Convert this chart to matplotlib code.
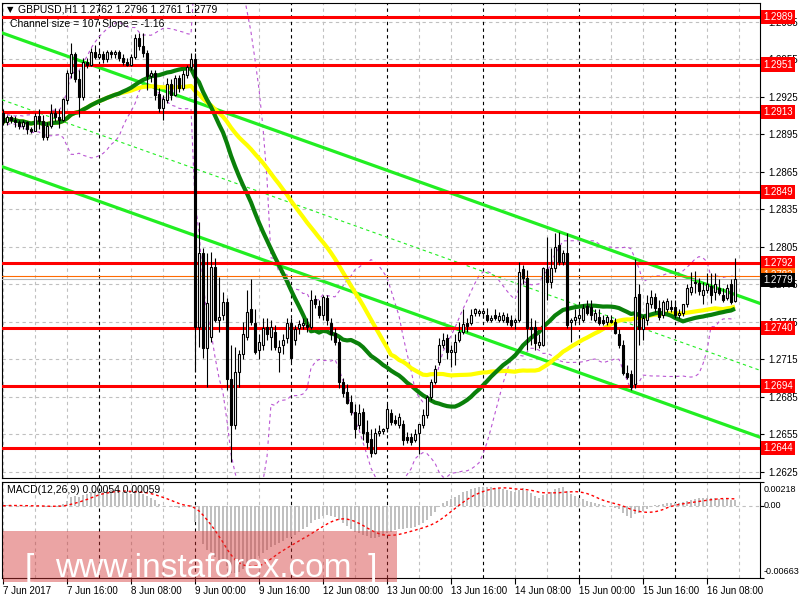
import numpy as np
import pandas as pd
import matplotlib
matplotlib.use("Agg")
import matplotlib.pyplot as plt
from matplotlib.patches import Rectangle

plt.rcParams['font.family'] = ['Liberation Sans', 'DejaVu Sans']

# --- data (GBPUSD H1, 7 Jun 00:00 .. 16 Jun 15:00) ---
opens = [
    1.2912, 1.2905, 1.2909, 1.2907, 1.2905, 1.2902, 1.2905, 1.2899, 1.2898, 1.2910, 1.2906, 1.2893,
    1.2902, 1.2912, 1.2909, 1.2907, 1.2923, 1.2944, 1.2959, 1.2939, 1.2925, 1.2953, 1.2951, 1.2961,
    1.2957, 1.2959, 1.2955, 1.2961, 1.2959, 1.2961, 1.2956, 1.2953, 1.2951, 1.2957, 1.2972, 1.2966,
    1.2960, 1.2942, 1.2944, 1.2927, 1.2916, 1.2923, 1.2935, 1.2927, 1.2940, 1.2932, 1.2943, 1.2949,
    1.2955, 1.2741, 1.2800, 1.2724, 1.2733, 1.2789, 1.2747, 1.2751, 1.2761, 1.2699, 1.2663, 1.2705,
    1.2719, 1.2733, 1.2755, 1.2744, 1.2723, 1.2727, 1.2741, 1.2733, 1.2737, 1.2721, 1.2727, 1.2732,
    1.2744, 1.2731, 1.2740, 1.2743, 1.2743, 1.2741, 1.2763, 1.2758, 1.2751, 1.2764, 1.2744, 1.2736,
    1.2729, 1.2697, 1.2689, 1.2681, 1.2673, 1.2663, 1.2673, 1.2657, 1.2651, 1.2640, 1.2656, 1.2658,
    1.2660, 1.2672, 1.2667, 1.2663, 1.2663, 1.2653, 1.2653, 1.2651, 1.2656, 1.2663, 1.2671, 1.2685,
    1.2697, 1.2713, 1.2727, 1.2732, 1.2721, 1.2721, 1.2731, 1.2737, 1.2744, 1.2744, 1.2752, 1.2752,
    1.2752, 1.2751, 1.2747, 1.2751, 1.2747, 1.2747, 1.2749, 1.2747, 1.2745, 1.2747, 1.2787, 1.2780,
    1.2741, 1.2741, 1.2727, 1.2727, 1.2787, 1.2777, 1.2788, 1.2807, 1.2793, 1.2800, 1.2745, 1.2747,
    1.2748, 1.2747, 1.2758, 1.2757, 1.2747, 1.2749, 1.2747, 1.2745, 1.2747, 1.2745, 1.2735, 1.2727,
    1.2704, 1.2703, 1.2695, 1.2767, 1.2739, 1.2747, 1.2759, 1.2765, 1.2756, 1.2751, 1.2755, 1.2757,
    1.2757, 1.2751, 1.2752, 1.2759, 1.2769, 1.2777, 1.2776, 1.2767, 1.2771, 1.2774, 1.2769, 1.2772,
    1.2767, 1.2764, 1.2775, 1.2762,
]
highs = [
    1.2915, 1.2911, 1.2911, 1.2910, 1.2907, 1.2907, 1.2906, 1.2901, 1.2912, 1.2915, 1.2911, 1.2905,
    1.2919, 1.2916, 1.2915, 1.2924, 1.2947, 1.2968, 1.2961, 1.2947, 1.2956, 1.2956, 1.2964, 1.2967,
    1.2963, 1.2962, 1.2963, 1.2963, 1.2963, 1.2963, 1.2959, 1.2956, 1.2959, 1.2975, 1.2976, 1.2976,
    1.2963, 1.2947, 1.2947, 1.2932, 1.2927, 1.2940, 1.2939, 1.2943, 1.2943, 1.2947, 1.2951, 1.2960,
    1.2960, 1.2825, 1.2804, 1.2800, 1.2801, 1.2796, 1.2781, 1.2769, 1.2764, 1.2727, 1.2725, 1.2723,
    1.2745, 1.2771, 1.2779, 1.2755, 1.2735, 1.2748, 1.2748, 1.2747, 1.2743, 1.2731, 1.2735, 1.2748,
    1.2748, 1.2743, 1.2747, 1.2748, 1.2748, 1.2771, 1.2767, 1.2763, 1.2767, 1.2767, 1.2748, 1.2740,
    1.2732, 1.2700, 1.2695, 1.2687, 1.2679, 1.2679, 1.2676, 1.2667, 1.2659, 1.2660, 1.2663, 1.2660,
    1.2679, 1.2675, 1.2671, 1.2672, 1.2667, 1.2657, 1.2656, 1.2659, 1.2663, 1.2675, 1.2687, 1.2699,
    1.2711, 1.2732, 1.2736, 1.2735, 1.2727, 1.2735, 1.2745, 1.2755, 1.2748, 1.2755, 1.2756, 1.2755,
    1.2756, 1.2756, 1.2751, 1.2755, 1.2753, 1.2753, 1.2752, 1.2751, 1.2748, 1.2793, 1.2791, 1.2787,
    1.2748, 1.2747, 1.2735, 1.2789, 1.2813, 1.2804, 1.2816, 1.2817, 1.2803, 1.2816, 1.2748, 1.2755,
    1.2755, 1.2759, 1.2763, 1.2763, 1.2755, 1.2755, 1.2751, 1.2751, 1.2751, 1.2748, 1.2739, 1.2731,
    1.2711, 1.2707, 1.2795, 1.2775, 1.2751, 1.2767, 1.2771, 1.2768, 1.2763, 1.2763, 1.2764, 1.2763,
    1.2763, 1.2755, 1.2759, 1.2775, 1.2785, 1.2786, 1.2780, 1.2777, 1.2784, 1.2784, 1.2784, 1.2779,
    1.2772, 1.2775, 1.2779, 1.2796,
]
lows = [
    1.2903, 1.2903, 1.2904, 1.2901, 1.2899, 1.2899, 1.2895, 1.2896, 1.2898, 1.2899, 1.2891, 1.2891,
    1.2900, 1.2906, 1.2900, 1.2906, 1.2919, 1.2940, 1.2937, 1.2909, 1.2923, 1.2948, 1.2950, 1.2955,
    1.2955, 1.2952, 1.2953, 1.2956, 1.2956, 1.2954, 1.2951, 1.2950, 1.2950, 1.2955, 1.2963, 1.2957,
    1.2931, 1.2937, 1.2923, 1.2913, 1.2907, 1.2920, 1.2923, 1.2926, 1.2929, 1.2931, 1.2940, 1.2947,
    1.2705, 1.2725, 1.2716, 1.2693, 1.2729, 1.2745, 1.2737, 1.2747, 1.2691, 1.2633, 1.2659, 1.2693,
    1.2715, 1.2731, 1.2743, 1.2719, 1.2715, 1.2723, 1.2731, 1.2723, 1.2723, 1.2705, 1.2719, 1.2728,
    1.2713, 1.2727, 1.2735, 1.2739, 1.2737, 1.2739, 1.2756, 1.2748, 1.2747, 1.2743, 1.2731, 1.2727,
    1.2692, 1.2685, 1.2679, 1.2671, 1.2652, 1.2659, 1.2651, 1.2644, 1.2637, 1.2639, 1.2654, 1.2655,
    1.2657, 1.2663, 1.2663, 1.2660, 1.2647, 1.2648, 1.2647, 1.2649, 1.2639, 1.2660, 1.2668, 1.2683,
    1.2695, 1.2711, 1.2724, 1.2715, 1.2709, 1.2711, 1.2729, 1.2735, 1.2737, 1.2743, 1.2750, 1.2750,
    1.2748, 1.2745, 1.2745, 1.2747, 1.2745, 1.2745, 1.2743, 1.2741, 1.2739, 1.2745, 1.2775, 1.2723,
    1.2727, 1.2723, 1.2724, 1.2726, 1.2763, 1.2772, 1.2785, 1.2791, 1.2791, 1.2740, 1.2729, 1.2743,
    1.2745, 1.2745, 1.2751, 1.2747, 1.2745, 1.2743, 1.2743, 1.2743, 1.2744, 1.2735, 1.2724, 1.2703,
    1.2699, 1.2691, 1.2692, 1.2727, 1.2731, 1.2743, 1.2756, 1.2753, 1.2747, 1.2748, 1.2753, 1.2753,
    1.2748, 1.2748, 1.2750, 1.2757, 1.2767, 1.2768, 1.2767, 1.2759, 1.2768, 1.2760, 1.2763, 1.2767,
    1.2761, 1.2763, 1.2759, 1.2761,
]
closes = [
    1.2905, 1.2909, 1.2907, 1.2905, 1.2902, 1.2905, 1.2899, 1.2898, 1.2910, 1.2906, 1.2893, 1.2902,
    1.2912, 1.2909, 1.2907, 1.2923, 1.2944, 1.2959, 1.2939, 1.2925, 1.2953, 1.2951, 1.2961, 1.2957,
    1.2959, 1.2955, 1.2961, 1.2959, 1.2961, 1.2956, 1.2953, 1.2951, 1.2957, 1.2972, 1.2966, 1.2960,
    1.2942, 1.2944, 1.2927, 1.2916, 1.2923, 1.2935, 1.2927, 1.2940, 1.2932, 1.2943, 1.2949, 1.2955,
    1.2741, 1.2800, 1.2724, 1.2760, 1.2789, 1.2747, 1.2749, 1.2761, 1.2699, 1.2663, 1.2705, 1.2719,
    1.2735, 1.2753, 1.2745, 1.2721, 1.2729, 1.2740, 1.2735, 1.2741, 1.2725, 1.2725, 1.2731, 1.2744,
    1.2716, 1.2739, 1.2743, 1.2744, 1.2741, 1.2763, 1.2759, 1.2751, 1.2765, 1.2747, 1.2735, 1.2729,
    1.2697, 1.2688, 1.2680, 1.2673, 1.2659, 1.2672, 1.2656, 1.2649, 1.2640, 1.2656, 1.2658, 1.2659,
    1.2675, 1.2665, 1.2664, 1.2669, 1.2651, 1.2651, 1.2649, 1.2655, 1.2663, 1.2671, 1.2685, 1.2697,
    1.2707, 1.2727, 1.2731, 1.2721, 1.2723, 1.2729, 1.2737, 1.2743, 1.2742, 1.2751, 1.2755, 1.2754,
    1.2754, 1.2747, 1.2748, 1.2748, 1.2750, 1.2751, 1.2745, 1.2743, 1.2747, 1.2785, 1.2780, 1.2740,
    1.2739, 1.2728, 1.2729, 1.2788, 1.2777, 1.2788, 1.2805, 1.2793, 1.2800, 1.2743, 1.2747, 1.2749,
    1.2751, 1.2756, 1.2752, 1.2751, 1.2752, 1.2744, 1.2744, 1.2749, 1.2745, 1.2736, 1.2727, 1.2704,
    1.2701, 1.2693, 1.2765, 1.2739, 1.2748, 1.2760, 1.2765, 1.2756, 1.2749, 1.2761, 1.2762, 1.2755,
    1.2751, 1.2752, 1.2759, 1.2772, 1.2773, 1.2776, 1.2770, 1.2771, 1.2775, 1.2767, 1.2775, 1.2768,
    1.2763, 1.2772, 1.2761, 1.2779,
]

levels = [1.2989, 1.2951, 1.2913, 1.2849, 1.2792, 1.2740, 1.2694, 1.2644]
price_ticks = [1.2625, 1.2655, 1.2685, 1.2715, 1.2745, 1.2775, 1.2805,
               1.2835, 1.2865, 1.2895, 1.2925, 1.2955, 1.2985]
bid_price = 1.2779
ask_price = 1.2782

date_tick_bars = [0, 16, 32, 48, 64, 80, 96, 112, 128, 144, 160, 176]
date_labels = ["7 Jun 2017", "7 Jun 16:00", "8 Jun 08:00", "9 Jun 00:00", "9 Jun 16:00",
               "12 Jun 08:00", "13 Jun 00:00", "13 Jun 16:00", "14 Jun 08:00",
               "15 Jun 00:00", "15 Jun 16:00", "16 Jun 08:00"]
day_breaks = [24, 48, 72, 96, 120, 144, 168]

# regression channel (upper line anchors + width)
channel_bars = [0, 183]
channel_upper = [1.2976, 1.2767]
channel_width = 0.0107

macd_max, macd_min = 0.00218, -0.00663
macd_labels = ["0.00218", "0.00", "-0.00663"]

header = "GBPUSD,H1 1.2762 1.2796 1.2761 1.2779"
channel_note = "Channel size = 107 Slope = -1.16"
macd_note = "MACD(12,26,9) 0.00054 0.00059"

# --- indicators ---
o = np.array(opens); h = np.array(highs); l = np.array(lows); c = np.array(closes)
n = len(c)
x = np.arange(n)
cs = pd.Series(c)
ma_fast = cs.rolling(30, min_periods=1).mean()
ma_slow = cs.rolling(50, min_periods=1).mean()
bb_mid = cs.rolling(20, min_periods=2).mean()
bb_sd = cs.rolling(20, min_periods=2).std(ddof=0)
bb_up = bb_mid + 2 * bb_sd
bb_dn = bb_mid - 2 * bb_sd
macd = cs.ewm(span=12, adjust=False).mean() - cs.ewm(span=26, adjust=False).mean()
signal = macd.rolling(9, min_periods=1).mean()

W, H = 800, 600
fig = plt.figure(figsize=(8, 6), dpi=100)
fig.patch.set_facecolor("white")


def fx(px):
    return px / W


def fy(py):
    return 1 - py / H


ax = fig.add_axes([fx(2), fy(478), fx(758), (478 - 3) / H])
ax2 = fig.add_axes([fx(2), fy(578), fx(758), (578 - 482) / H], sharex=ax)

xlim = (-0.25, 189.25)
grid_kw = dict(color="#c0c0c0", lw=0.8, ls=(0, (3, 3)), zorder=1)
sep_kw = dict(color="black", lw=0.8, ls=(0, (3, 3)), zorder=1.5)

for a in (ax, ax2):
    for gx in range(0, 190, 8):
        if gx not in day_breaks:
            a.axvline(gx, **grid_kw)
    for d in day_breaks:
        a.axvline(d, **sep_kw)
    for s in a.spines.values():
        s.set_linewidth(0.8)
        s.set_color("black")
    a.set_facecolor("white")

for pt in price_ticks:
    ax.axhline(pt, **grid_kw)

# Bollinger bands
ax.plot(x, bb_up, color="#ba55d3", lw=0.8, ls=(0, (3, 3)), zorder=2)
ax.plot(x, bb_dn, color="#ba55d3", lw=0.8, ls=(0, (3, 3)), zorder=2)

# regression channel
for off, solid in ((0.0, True), (channel_width / 2, False), (channel_width, True)):
    p0 = (channel_bars[0], channel_upper[0] - off)
    p1 = (channel_bars[1], channel_upper[1] - off)
    if solid:
        ax.axline(p0, p1, color="#22ee22", lw=2.3, zorder=3)
    else:
        ax.axline(p0, p1, color="#22ee22", lw=0.8, ls=(0, (3, 3)), zorder=3)

# moving averages
ax.plot(x, ma_slow, color="#ffff00", lw=3.0, zorder=4, solid_capstyle="butt")
ax.plot(x, ma_fast, color="#0a800a", lw=3.0, zorder=4.2, solid_capstyle="butt")

# support / resistance levels
for lv in levels:
    ax.axhline(lv, color="#ff0000", lw=2.2, zorder=5)
ax.axhline(ask_price, color="#ff6a00", lw=0.8, zorder=5)
ax.axhline(bid_price, color="#b4b4b4", lw=0.8, zorder=5)

# candles
up = c >= o
ax.vlines(x, l, h, color="black", lw=0.8, zorder=6)
ax.bar(x[up], c[up] - o[up], bottom=o[up], width=0.6, color="white",
       edgecolor="black", lw=0.8, zorder=7)
ax.bar(x[~up], o[~up] - c[~up], bottom=c[~up], width=0.6, color="black",
       edgecolor="black", lw=0.8, zorder=7)

ax.set_xlim(*xlim)
ax.set_ylim(1.26202, 1.30002)
ax.yaxis.tick_right()
ax.set_yticks(price_ticks)
ax.set_yticklabels([f"{t:.4f}" for t in price_ticks])
ax.tick_params(axis="y", direction="out", length=3, width=0.8, pad=3, labelsize=7)
ax.tick_params(axis="x", bottom=False, labelbottom=False)

ytr = ax.get_yaxis_transform()
label_kw = dict(transform=ytr, ha="left", va="center", fontsize=7, color="white",
                clip_on=False, zorder=20)
for lv in levels:
    ax.text(1.0045, lv, f"{lv:.4f}", bbox=dict(boxstyle="square,pad=0.22", fc="#ff0000", ec="none"),
            **label_kw)
ax.text(1.0045, ask_price + 0.00008, f"{ask_price:.4f}",
        bbox=dict(boxstyle="square,pad=0.22", fc="#ff6a00", ec="none"), **label_kw)
ax.text(1.0045, bid_price - 0.00004, f"{bid_price:.4f}",
        bbox=dict(boxstyle="square,pad=0.22", fc="black", ec="none"), **label_kw)

# MACD panel
ax2.axhline(0, **grid_kw)
ax2.bar(x, macd, width=0.6, color="#c0c0c0", zorder=2)
ax2.plot(x, signal, color="#ff0000", lw=1.0, ls=(0, (2, 2)), zorder=3)
ax2.set_ylim(macd_min, macd_max)
ax2.yaxis.tick_right()
ax2.set_yticks([macd_max, 0.0, macd_min])
ax2.set_yticklabels([])
ax2.tick_params(axis="y", direction="out", length=3, width=0.8)
# value labels sit a little inside the panel edges, as in the terminal
for lab, py in zip(macd_labels, (489, 506, 572)):
    fig.text(fx(764), fy(py), lab, fontsize=6.5, va="center", ha="left")
ax2.set_xticks(date_tick_bars)
ax2.set_xticklabels(date_labels, ha="left")
ax2.tick_params(axis="x", direction="out", length=4, width=0.8, pad=2, labelsize=7)

# header texts
fig.text(fx(7), fy(10), "\u25bc", fontsize=6, va="center", ha="left", family="DejaVu Sans")
fig.text(fx(18), fy(10), header, fontsize=7.5, va="center", ha="left")
fig.text(fx(10), fy(24), channel_note, fontsize=7.5, va="center", ha="left")
fig.text(fx(7), fy(490), macd_note, fontsize=7.5, va="center", ha="left")

# watermark
fig.patches.append(Rectangle((fx(3), fy(582)), fx(394), (582 - 531) / H,
                             transform=fig.transFigure, facecolor=(211 / 255, 53 / 255, 53 / 255),
                             alpha=0.45, edgecolor="none", zorder=10))
wm_kw = dict(fontsize=24, color="white", va="baseline", ha="left", zorder=11,
             family=["Liberation Sans", "DejaVu Sans"])
fig.text(fx(25), fy(577), "[", **wm_kw)
fig.text(fx(55), fy(577), "www.instaforex.com", **wm_kw)
fig.text(fx(368), fy(577), "]", **wm_kw)

fig.savefig("out.png", dpi=100)
